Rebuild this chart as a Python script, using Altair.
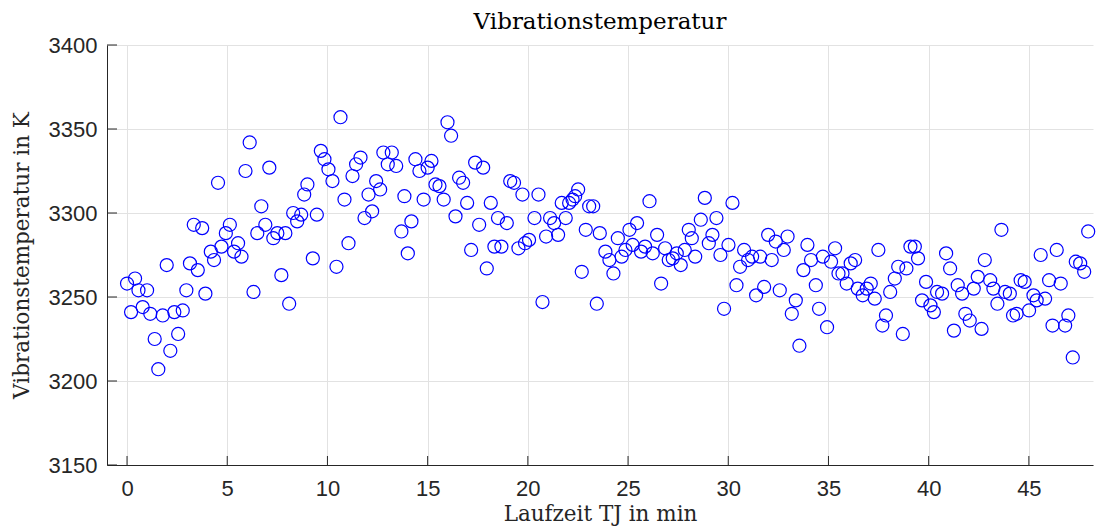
import altair as alt
import pandas as pd

# Laufzeit in min
t_min = [
    0.0, 0.2, 0.4, 0.57, 0.78, 1.0, 1.16, 1.38, 1.56, 1.78, 1.98, 2.16, 2.36, 2.55, 2.78, 2.96, 3.14, 3.33, 3.53, 3.75, 3.91,
    4.18, 4.34, 4.54, 4.71, 4.93, 5.13, 5.34, 5.54, 5.71, 5.91, 6.12, 6.31, 6.5, 6.7, 6.9, 7.1, 7.3, 7.5, 7.7, 7.9, 8.09, 8.29, 8.49, 8.69, 8.84, 9.0,
    9.27, 9.47, 9.67, 9.85, 10.05, 10.25, 10.45, 10.65, 10.85, 11.05, 11.25, 11.43, 11.65, 11.85, 12.05, 12.23, 12.43, 12.63, 12.79, 13.01, 13.21, 13.43,
    13.69, 13.84, 14.01, 14.19, 14.39, 14.59, 14.8, 15.0, 15.19, 15.39, 15.59, 15.8, 15.99, 16.17, 16.39, 16.57, 16.77, 16.97, 17.17, 17.37, 17.57, 17.77, 17.95, 18.15, 18.33, 18.51, 18.68,
    18.95, 19.12, 19.31, 19.53, 19.73, 19.86, 20.06, 20.33, 20.53, 20.73, 20.91, 21.11, 21.31, 21.51, 21.69, 21.89, 22.06, 22.23, 22.36, 22.51, 22.69, 22.89, 23.06, 23.26, 23.44, 23.59,
    23.87, 24.07, 24.27, 24.49, 24.68, 24.87, 25.07, 25.23, 25.45, 25.65, 25.85, 26.07, 26.23, 26.45, 26.65, 26.85, 27.03, 27.23, 27.43, 27.63, 27.83, 28.03, 28.18, 28.35,
    28.63, 28.83, 29.03, 29.21, 29.41, 29.61, 29.79, 30.01, 30.21, 30.41, 30.59, 30.79, 30.99, 31.19, 31.39, 31.59, 31.79, 31.99, 32.17, 32.37, 32.57, 32.77, 32.96,
    33.17, 33.37, 33.55, 33.75, 33.95, 34.13, 34.37, 34.53, 34.72, 34.93, 35.13, 35.33, 35.5, 35.7, 35.91, 36.11, 36.33, 36.46, 36.71, 36.91, 37.11, 37.31, 37.49, 37.69, 37.87, 38.08,
    38.31, 38.48, 38.71, 38.89, 39.09, 39.31, 39.47, 39.67, 39.87, 40.09, 40.26, 40.42, 40.67, 40.87, 41.07, 41.26, 41.45, 41.67, 41.83, 42.05, 42.25, 42.45, 42.64, 42.8,
    43.07, 43.23, 43.43, 43.63, 43.81, 44.05, 44.21, 44.39, 44.59, 44.79, 45.01, 45.23, 45.39, 45.59, 45.81, 46.01, 46.18, 46.39, 46.59, 46.81, 46.97, 47.19, 47.34, 47.56, 47.76, 47.96,
]

# Vibrationstemperatur in K
temp_k = [
    3258, 3241, 3261, 3254, 3244, 3254, 3240, 3225, 3207, 3239, 3269, 3218, 3241, 3228, 3242, 3254, 3270, 3293, 3266, 3291, 3252,
    3277, 3272, 3318, 3280, 3288, 3293, 3277, 3282, 3274, 3325, 3342, 3253, 3288, 3304, 3293, 3327, 3285, 3288, 3263, 3288, 3246, 3300, 3295, 3299, 3311, 3317,
    3273, 3299, 3337, 3332, 3326, 3319, 3268, 3357, 3308, 3282, 3322, 3329, 3333, 3297, 3311, 3301, 3319, 3314, 3336, 3329, 3336, 3328,
    3289, 3310, 3276, 3295, 3332, 3325, 3308, 3327, 3331, 3317, 3316, 3308, 3354, 3346, 3298, 3321, 3318, 3306, 3278, 3330, 3293, 3327, 3267, 3306, 3280, 3297, 3280,
    3294, 3319, 3318, 3279, 3311, 3282, 3284, 3297, 3311, 3247, 3286, 3297, 3294, 3287, 3306, 3297, 3306, 3308, 3310, 3314, 3265, 3290, 3304, 3304, 3246, 3288,
    3277, 3272, 3264, 3285, 3274, 3278, 3290, 3281, 3294, 3277, 3280, 3307, 3276, 3287, 3258, 3279, 3272, 3273, 3276, 3269, 3278, 3290, 3285, 3274,
    3296, 3309, 3282, 3287, 3297, 3275, 3243, 3281, 3306, 3257, 3268, 3278, 3272, 3274, 3251, 3274, 3256, 3287, 3272, 3283, 3254, 3278, 3286,
    3240, 3248, 3221, 3266, 3281, 3272, 3257, 3243, 3274, 3232, 3271, 3279, 3264, 3264, 3258, 3270, 3272, 3255, 3251, 3255, 3258, 3249, 3278, 3233, 3239, 3253,
    3261, 3268, 3228, 3267, 3280, 3280, 3273, 3248, 3259, 3245, 3241, 3253, 3252, 3276, 3267, 3230, 3257, 3252, 3240, 3236, 3255, 3262, 3231, 3272,
    3260, 3255, 3246, 3290, 3253, 3252, 3239, 3240, 3260, 3259, 3242, 3251, 3248, 3275, 3249, 3260, 3233, 3278, 3258, 3233, 3239, 3214, 3271, 3270, 3265, 3289,
]

x_ticks = [0, 5, 10, 15, 20, 25, 30, 35, 40, 45]
y_ticks = [3150, 3200, 3250, 3300, 3350, 3400]

W, H = 986, 420
AX = "#262626"

df = pd.DataFrame({"t": t_min, "T": temp_k})
xs = alt.Scale(domain=[-1, 48.2], nice=False, zero=False)
ys = alt.Scale(domain=[3150, 3400], nice=False, zero=False)
x_axis = alt.Axis(values=x_ticks, format="d", title="Laufzeit TJ in min", labelPadding=13, titlePadding=4)
y_axis = alt.Axis(values=y_ticks, format="d", title="Vibrationstemperatur in K", labelPadding=10, titlePadding=15)

points = alt.Chart(df).mark_point(
    shape="circle", filled=False, size=170, color="#0000ff", strokeWidth=1.2, opacity=1
).encode(
    x=alt.X("t:Q", scale=xs, axis=x_axis),
    y=alt.Y("T:Q", scale=ys, axis=y_axis),
)

xt = alt.Chart(pd.DataFrame({"v": x_ticks})).mark_rule(color=AX, strokeWidth=1).encode(
    x=alt.X("v:Q", scale=xs, axis=x_axis),
    y=alt.value(H - 9), y2=alt.value(H),
)
yt = alt.Chart(pd.DataFrame({"v": y_ticks})).mark_rule(color=AX, strokeWidth=1).encode(
    y=alt.Y("v:Q", scale=ys, axis=y_axis),
    x=alt.value(0), x2=alt.value(10),
)

chart = alt.layer(points, xt, yt).properties(
    width=W, height=H,
    title=alt.TitleParams("Vibrationstemperatur", font="DejaVu Serif", fontSize=23,
                          fontWeight="normal", color="#000000", anchor="middle", offset=0),
    autosize=alt.AutoSizeParams(type="none"),
    padding={"left": 107, "top": 45, "right": 9, "bottom": 64},
).configure_view(stroke=None).configure_axis(
    grid=True, gridColor="#e2e2e2", gridWidth=1,
    domainColor=AX, domainWidth=1, tickSize=0,
    labelFont="Liberation Sans", labelFontSize=22, labelColor=AX,
    titleFont="DejaVu Serif", titleFontSize=21.5, titleFontWeight="normal", titleColor=AX,
)

chart.save("out.html", embed_options={"renderer": "svg", "actions": False})
